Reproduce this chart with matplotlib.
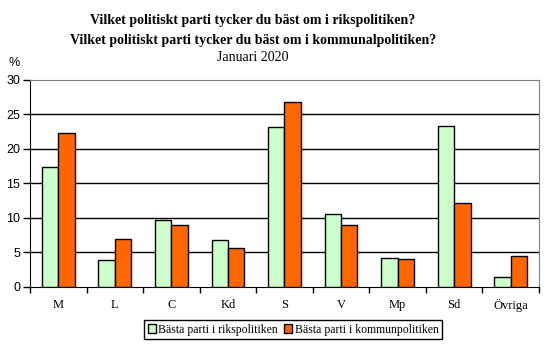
import matplotlib
matplotlib.use("Agg")
import matplotlib.pyplot as plt
import numpy as np

plt.rcParams['font.family'] = ['Liberation Serif', 'DejaVu Serif']

partier = ["M", "L", "C", "Kd", "S", "V", "Mp", "Sd", "Övriga"]
riks = [17.4, 3.8, 9.6, 6.7, 23.1, 10.6, 4.1, 23.3, 1.4]
kommun = [22.3, 6.9, 9.0, 5.6, 26.8, 9.0, 4.0, 12.2, 4.4]
yticks = [0, 5, 10, 15, 20, 25, 30]

fig = plt.figure(figsize=(5.5, 3.53), dpi=100)
ax = fig.add_axes([0.0545, 0.188, 0.9255, 0.586])

x = np.arange(len(partier))
w = 0.29
ax.bar(x - w/2, riks, w, color="#CCFFCC", edgecolor="black", linewidth=1,
       label="Bästa parti i rikspolitiken", zorder=3)
ax.bar(x + w/2, kommun, w, color="#FF6600", edgecolor="black", linewidth=1,
       label="Bästa parti i kommunpolitiken", zorder=3)

ax.set_xlim(-0.5, len(partier) - 0.5)
ax.set_ylim(0, 30)
ax.set_yticks(yticks)
ax.set_xticks(x)
ax.set_xticklabels(partier)
ax.set_xticks(np.arange(-0.5, len(partier)), minor=True)
ax.tick_params(axis="x", which="major", length=0, pad=9, labelsize=9)
ax.tick_params(axis="x", which="minor", length=4, direction="out", width=1)
ax.tick_params(axis="y", length=5, direction="out", width=1, labelsize=9, pad=2)
for lab in ax.get_yticklabels():
    lab.set_fontfamily(["Liberation Sans", "DejaVu Sans"])

for v in yticks[1:-1]:
    ax.axhline(v, color="black", linewidth=1, zorder=1)
ax.spines["top"].set_color("#808080")
ax.spines["right"].set_color("#808080")

fig.text(0.015, 0.822, "%", fontsize=9, ha="left", va="center",
         family=["Liberation Sans", "DejaVu Sans"])

fig.text(0.46, 0.943, "Vilket politiskt parti tycker du bäst om i rikspolitiken?",
         ha="center", va="center", fontsize=10, fontweight="bold")
fig.text(0.46, 0.884, "Vilket politiskt parti tycker du bäst om i kommunalpolitiken?",
         ha="center", va="center", fontsize=10, fontweight="bold")
fig.text(0.46, 0.836, "Januari 2020", ha="center", va="center", fontsize=10)

leg = fig.legend(loc="center", bbox_to_anchor=(0.533, 0.066), ncol=2, fontsize=8.5,
                 frameon=True, fancybox=False, edgecolor="black", framealpha=1,
                 handlelength=0.7, handleheight=0.7, handletextpad=0.2,
                 columnspacing=0.5, borderpad=0.3, borderaxespad=0)
leg.get_frame().set_linewidth(1)

fig.savefig("out.png", dpi=100)
